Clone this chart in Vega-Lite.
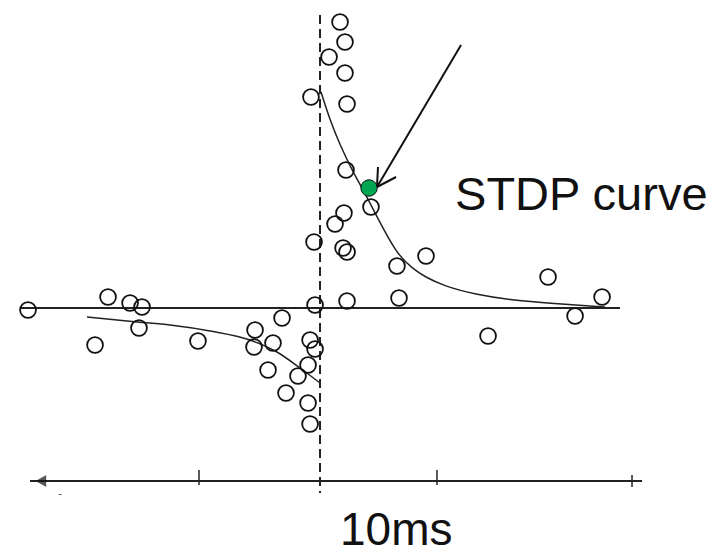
{
  "$schema": "https://vega.github.io/schema/vega-lite/v6.json",
  "width": 711,
  "height": 558,
  "padding": 0,
  "autosize": {"type": "none"},
  "background": "white",
  "config": {"view": {"stroke": null}},
  "encoding": {
    "x": {"field": "x", "type": "quantitative", "scale": {"domain": [-28.32, 34.6], "nice": false, "zero": false}, "axis": null},
    "y": {"field": "y", "type": "quantitative", "scale": {"domain": [-100, 123.2], "nice": false, "zero": false}, "axis": null}
  },
  "layer": [
    {
      "data": {"values": [{"x": -26.55, "x2": 26.55, "y": 0}]},
      "mark": {"type": "rule", "stroke": "#222", "strokeWidth": 2},
      "encoding": {"x2": {"field": "x2"}}
    },
    {
      "data": {"values": [{"x": -25.66, "x2": 28.5, "y": -69.2}]},
      "mark": {"type": "rule", "stroke": "#222", "strokeWidth": 2},
      "encoding": {"x2": {"field": "x2"}}
    },
    {
      "data": {"values": [
        {"x": -10.71, "y": -64.8, "y2": -70.8},
        {"x": 10.35, "y": -64.8, "y2": -70.8},
        {"x": 27.61, "y": -66.8, "y2": -71.6}
      ]},
      "mark": {"type": "rule", "stroke": "#222", "strokeWidth": 1.5},
      "encoding": {"y2": {"field": "y2"}}
    },
    {
      "data": {"values": [{"x": 0, "y": 117.2, "y2": -74}]},
      "mark": {"type": "rule", "stroke": "#222", "strokeWidth": 2, "strokeDash": [9, 5]},
      "encoding": {"y2": {"field": "y2"}}
    },
    {
      "data": {"values": [{"x": -24.7, "y": -69.2}]},
      "mark": {"type": "point", "shape": "triangle-left", "filled": true, "fill": "#111", "size": 150, "strokeWidth": 0}
    },
    {
      "data": {"values": [
        {"x": 0.09, "y": 86.4}, {"x": 0.88, "y": 75.2}, {"x": 1.77, "y": 65.2},
        {"x": 2.83, "y": 55.2}, {"x": 3.72, "y": 48}, {"x": 4.6, "y": 40.4},
        {"x": 5.66, "y": 31.2}, {"x": 6.9, "y": 21.2}, {"x": 8.14, "y": 16},
        {"x": 9.29, "y": 12.4}, {"x": 11.0, "y": 8.8}, {"x": 13.54, "y": 5.6},
        {"x": 17.7, "y": 2.6}, {"x": 22.74, "y": 1.2}, {"x": 25.22, "y": 0.4}
      ]},
      "mark": {"type": "line", "stroke": "#222", "strokeWidth": 1.5, "interpolate": "basis"}
    },
    {
      "data": {"values": [
        {"x": -20.62, "y": -3.6}, {"x": -16.19, "y": -5.6}, {"x": -13.27, "y": -6.8},
        {"x": -9.73, "y": -9.2}, {"x": -6.19, "y": -12.8}, {"x": -3.81, "y": -17.6},
        {"x": -1.77, "y": -24}, {"x": 0, "y": -30}
      ]},
      "mark": {"type": "line", "stroke": "#222", "strokeWidth": 1.5, "interpolate": "monotone"}
    },
    {
      "data": {"values": [
        {"x": 1.77, "y": 114.4}, {"x": 2.21, "y": 106.4}, {"x": 0.8, "y": 100.4},
        {"x": 2.21, "y": 94}, {"x": -0.8, "y": 84.4}, {"x": 2.39, "y": 81.6},
        {"x": 2.3, "y": 55.2}, {"x": 4.51, "y": 40.4}, {"x": 2.12, "y": 38},
        {"x": 1.33, "y": 33.6}, {"x": -0.53, "y": 26.4}, {"x": 2.04, "y": 24},
        {"x": 2.39, "y": 22.4}, {"x": 9.38, "y": 20.8}, {"x": 6.81, "y": 16.8},
        {"x": 20.18, "y": 12.4}, {"x": 24.96, "y": 4.4}, {"x": 2.39, "y": 2.8},
        {"x": 6.99, "y": 4}, {"x": -0.44, "y": 1.2}, {"x": 22.57, "y": -3.2},
        {"x": 14.87, "y": -11.2}, {"x": -25.84, "y": -0.8}, {"x": -18.76, "y": 4.4},
        {"x": -16.81, "y": 2}, {"x": -15.75, "y": 0.4}, {"x": -16.02, "y": -8},
        {"x": -19.91, "y": -14.8}, {"x": -10.8, "y": -13.2}, {"x": -3.36, "y": -4},
        {"x": -5.75, "y": -8.8}, {"x": -5.84, "y": -15.6}, {"x": -4.16, "y": -14},
        {"x": -4.6, "y": -24.8}, {"x": -0.88, "y": -12.8}, {"x": -0.44, "y": -16.4},
        {"x": -1.06, "y": -22.8}, {"x": -1.95, "y": -27.2}, {"x": -3.01, "y": -34},
        {"x": -1.06, "y": -38}, {"x": -0.88, "y": -46.4}
      ]},
      "mark": {"type": "point", "shape": "circle", "filled": false, "stroke": "#111", "strokeWidth": 1.8, "size": 250, "opacity": 1}
    },
    {
      "data": {"values": [{"x": 4.34, "y": 48}]},
      "mark": {"type": "point", "shape": "circle", "filled": true, "fill": "#00A651", "stroke": "#111", "strokeWidth": 1, "size": 270, "opacity": 1}
    },
    {
      "data": {"values": [
        {"x": 12.48, "y": 105.2, "x2": 5.04, "y2": 48.4},
        {"x": 5.04, "y": 48.4, "x2": 5.13, "y2": 56.4},
        {"x": 5.04, "y": 48.4, "x2": 6.73, "y2": 52.4}
      ]},
      "mark": {"type": "rule", "stroke": "#111", "strokeWidth": 2},
      "encoding": {"x2": {"field": "x2"}, "y2": {"field": "y2"}}
    },
    {
      "data": {"values": [{"x": 11.95, "y": 39.2, "label": "STDP curve", "size": 47}, {"x": 1.77, "y": -94.8, "label": "10ms", "size": 46}]},
      "mark": {"type": "text", "align": "left", "baseline": "alphabetic", "font": "Liberation Sans", "fill": "#111"},
      "encoding": {"text": {"field": "label"}, "size": {"field": "size", "type": "quantitative", "scale": null}}
    },
    {
      "data": {"values": [{"x": -23.0, "y": -74.4, "label": "-"}]},
      "mark": {"type": "text", "align": "center", "baseline": "middle", "font": "Liberation Sans", "fontSize": 11, "fill": "#444"},
      "encoding": {"text": {"field": "label"}}
    }
  ]
}
